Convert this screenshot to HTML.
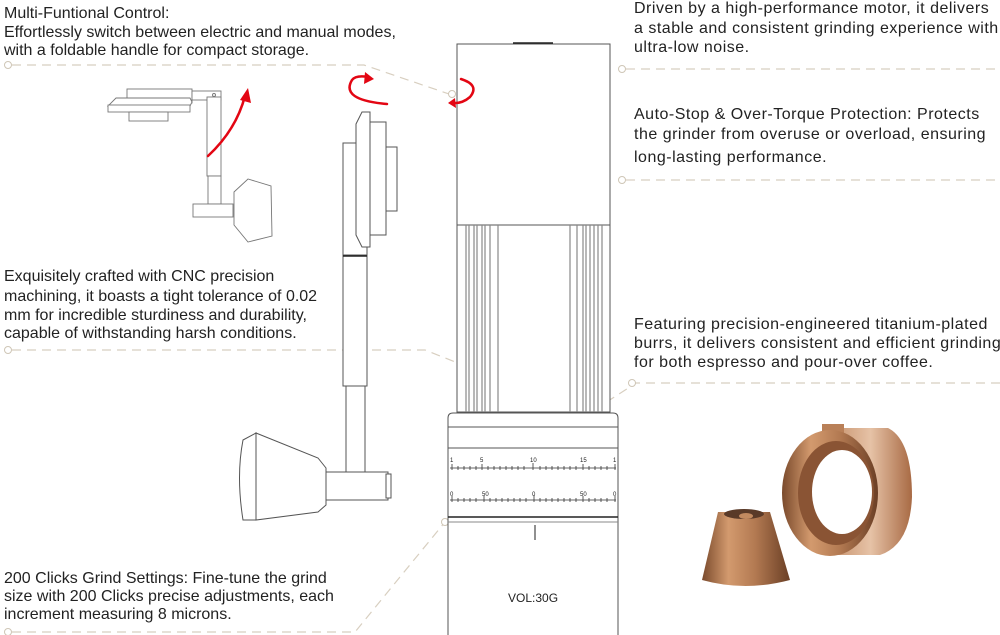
<!DOCTYPE html>
<html><head><meta charset="utf-8"><style>
html,body{margin:0;padding:0;background:#fff;width:1000px;height:635px;overflow:hidden}
svg{display:block}
text{font-family:"Liberation Sans",sans-serif;font-size:16px;fill:#222}
.r{letter-spacing:0.5px}
</style></head><body>
<svg width="1000" height="635" viewBox="0 0 1000 635" xmlns="http://www.w3.org/2000/svg">
<defs>
<linearGradient id="cu" x1="0" y1="0" x2="1" y2="0">
<stop offset="0" stop-color="#7a4a2c"/><stop offset="0.3" stop-color="#d39a6e"/><stop offset="0.6" stop-color="#b37a52"/><stop offset="1" stop-color="#6b3f25"/></linearGradient>
<linearGradient id="cu2" x1="0" y1="0" x2="1" y2="0">
<stop offset="0" stop-color="#c48e68"/><stop offset="0.5" stop-color="#e6c2a6"/><stop offset="1" stop-color="#a86a44"/></linearGradient>
</defs>
<g>
<text x="4" y="18">Multi-Funtional Control:</text>
<text x="4" y="37">Effortlessly switch between electric and manual modes,</text>
<text x="4" y="55">with a foldable handle for compact storage.</text>
<text x="4" y="281">Exquisitely crafted with CNC precision</text>
<text x="4" y="301">machining, it boasts a tight tolerance of 0.02</text>
<text x="4" y="320">mm for incredible sturdiness and durability,</text>
<text x="4" y="338">capable of withstanding harsh conditions.</text>
<text x="4" y="583">200 Clicks Grind Settings: Fine-tune the grind</text>
<text x="4" y="601">size with 200 Clicks precise adjustments, each</text>
<text x="4" y="619">increment measuring 8 microns.</text>
<text class="r" x="634" y="13">Driven by a high-performance motor, it delivers</text>
<text class="r" x="634" y="33">a stable and consistent grinding experience with</text>
<text class="r" x="634" y="52">ultra-low noise.</text>
<text class="r" x="634" y="119">Auto-Stop &amp; Over-Torque Protection: Protects</text>
<text class="r" x="634" y="139">the grinder from overuse or overload, ensuring</text>
<text class="r" x="634" y="162">long-lasting performance.</text>
<text class="r" x="634" y="329">Featuring precision-engineered titanium-plated</text>
<text class="r" x="634" y="348">burrs, it delivers consistent and efficient grinding</text>
<text class="r" x="634" y="367">for both espresso and pour-over coffee.</text>
</g>
<g fill="none" stroke="#d8cfc0" stroke-width="1.2" stroke-dasharray="9,6">
<polyline points="12,65 364,65 452,95"/>
<polyline points="12,350 425,350 526,390"/>
<polyline points="12,632 355,632 445,522"/>
<line x1="626" y1="69" x2="1000" y2="69"/>
<line x1="626" y1="180" x2="1000" y2="180"/>
<polyline points="1000,383 636,383 551,438"/>
</g>
<g fill="#fff" stroke="#cfc6b6" stroke-width="1">
<circle cx="8" cy="65" r="3.5"/><circle cx="8" cy="350" r="3.5"/><circle cx="8" cy="632" r="3.5"/>
<circle cx="622" cy="69" r="3.5"/><circle cx="622" cy="180" r="3.5"/><circle cx="632" cy="383" r="3.5"/>
<circle cx="452" cy="94" r="3.5"/><circle cx="530" cy="392" r="3.5"/><circle cx="548" cy="442" r="3.5"/><circle cx="445" cy="522" r="3.5"/>
</g>
<g fill="#fff" stroke="#555" stroke-width="1">
<rect x="457" y="44" width="153" height="181"/>
<line x1="513" y1="43" x2="553" y2="43" stroke="#222" stroke-width="1.5"/>
<rect x="457" y="225" width="153" height="187"/>
</g>
<g stroke="#888" stroke-width="1.2">
<line x1="466" y1="225" x2="466" y2="412"/><line x1="469" y1="225" x2="469" y2="412"/>
<line x1="474" y1="225" x2="474" y2="412"/><line x1="477" y1="225" x2="477" y2="412"/>
<line x1="482" y1="225" x2="482" y2="412"/><line x1="485" y1="225" x2="485" y2="412"/>
<line x1="490" y1="225" x2="490" y2="412"/><line x1="498" y1="225" x2="498" y2="412"/>
<line x1="570" y1="225" x2="570" y2="412"/><line x1="577" y1="225" x2="577" y2="412"/>
<line x1="583" y1="225" x2="583" y2="412"/><line x1="586" y1="225" x2="586" y2="412"/>
<line x1="590" y1="225" x2="590" y2="412"/><line x1="594" y1="225" x2="594" y2="412"/>
<line x1="598" y1="225" x2="598" y2="412"/><line x1="602" y1="225" x2="602" y2="412"/>
</g>
<g fill="#fff" stroke="#555" stroke-width="1">
<path d="M448,635 L448,418 Q448,413 453,413 L613,413 Q618,413 618,418 L618,635"/>
<line x1="448" y1="427" x2="618" y2="427"/>
<line x1="448" y1="448" x2="618" y2="448"/>
<line x1="448" y1="517" x2="618" y2="517" stroke="#222" stroke-width="1.5"/>
<line x1="448" y1="522" x2="618" y2="522" stroke="#888"/>
<line x1="535" y1="525" x2="535" y2="540" stroke="#222"/>
</g>
<g stroke="#333" stroke-width="0.8">
<path d="M450,468 h166 M450,500 h166"/>
</g>
<g>
<text x="450" y="462" style="font-size:6px">1</text><text x="480" y="462" style="font-size:6px">5</text><text x="530" y="462" style="font-size:6px">10</text><text x="580" y="462" style="font-size:6px">15</text><text x="613" y="462" style="font-size:6px">1</text>
<text x="450" y="496" style="font-size:6px">0</text><text x="482" y="496" style="font-size:6px">50</text><text x="532" y="496" style="font-size:6px">0</text><text x="580" y="496" style="font-size:6px">50</text><text x="613" y="496" style="font-size:6px">0</text>
</g>
<g stroke="#333" stroke-width="0.8">
<path d="M452,464v6M458,466v4M464,466v4M470,466v4M476,466v4M482,464v6M488,466v4M494,466v4M500,466v4M506,466v4M512,466v4M518,466v4M524,466v4M533,463v7M540,466v4M546,466v4M552,466v4M558,466v4M564,466v4M570,466v4M576,466v4M583,464v6M589,466v4M595,466v4M601,466v4M607,466v4M615,464v6"/>
<path d="M452,496v6M458,498v4M464,498v4M470,498v4M476,498v4M484,496v6M490,498v4M496,498v4M502,498v4M508,498v4M514,498v4M520,498v4M526,498v4M534,495v7M540,498v4M546,498v4M552,498v4M558,498v4M564,498v4M570,498v4M576,498v4M583,496v6M589,498v4M595,498v4M601,498v4M607,498v4M615,496v6"/>
</g>
<text x="508" y="602" style="font-size:12px">VOL:30G</text>
<g fill="#fff" stroke="#555" stroke-width="1">
<rect x="343" y="143" width="24" height="112"/>
<rect x="386" y="147" width="11" height="64"/>
<rect x="370" y="122" width="16" height="113"/>
<path d="M362,112 L370,112 L370,247 L362,247 L356,235 L356,124 Z"/>
<rect x="343" y="255" width="24" height="131"/>
<line x1="343" y1="256" x2="367" y2="256" stroke="#222" stroke-width="1.5"/>
<path d="M346,386 L365,386 L365,472 Q356,480 346,472 Z"/>
<rect x="326" y="472" width="62" height="28"/>
<rect x="386" y="474" width="5" height="24"/>
<path d="M256,433 L318,458 L326,468 L326,505 L318,512 L256,520 Z"/>
<path d="M256,433 L243,440 Q236,476 243,520 L256,520 Z"/>
</g>
<g fill="#fff" stroke="#777" stroke-width="0.9">
<rect x="127" y="89" width="65" height="14"/>
<path d="M116,98 L190,98 L192,102 L190,106 L108,106 Z"/>
<rect x="108" y="105" width="82" height="7"/>
<rect x="129" y="112" width="39" height="9"/>
<rect x="192" y="91" width="29" height="9"/>
<rect x="207" y="97" width="14" height="79"/>
<rect x="208" y="176" width="13" height="28"/>
<rect x="193" y="204" width="40" height="13"/>
<path d="M234,192 L248,179 L271,186 L272,236 L248,242 L234,225 Z"/>
<circle cx="214" cy="95" r="1.5"/>
</g>
<g fill="none" stroke="#e30613" stroke-width="2.5" stroke-linecap="round">
<path d="M208,156 Q236,130 245,96"/>
<path d="M387,104 Q340,100 352,80 Q356,75 368,77"/>
<path d="M461,79 Q480,85 470,97 Q462,104 452,103"/>
</g>
<g fill="#e30613">
<path d="M240,100 L248,88 L251,103 Z"/>
<path d="M365,72 L374,79 L364,84 Z"/>
<path d="M455,98 L448,103 L456,108 Z"/>
</g>
<path d="M829,428 L888,428 Q912,440 912,497 Q910,545 880,555 L830,555 Z" fill="url(#cu2)"/>
<rect x="822" y="424" width="22" height="12" fill="#b98058"/>
<ellipse cx="830" cy="493" rx="48" ry="63" fill="url(#cu)"/>
<ellipse cx="836" cy="493" rx="38" ry="52" fill="#8a5434"/>
<ellipse cx="842" cy="492" rx="30" ry="42" fill="#fff"/>
<path d="M718,512 L770,512 L790,580 Q745,592 702,580 Z" fill="url(#cu)"/>
<ellipse cx="744" cy="514" rx="20" ry="5" fill="#5a3a28"/>
<ellipse cx="746" cy="516" rx="7" ry="3" fill="#c28a60"/>
</svg>
</body></html>
